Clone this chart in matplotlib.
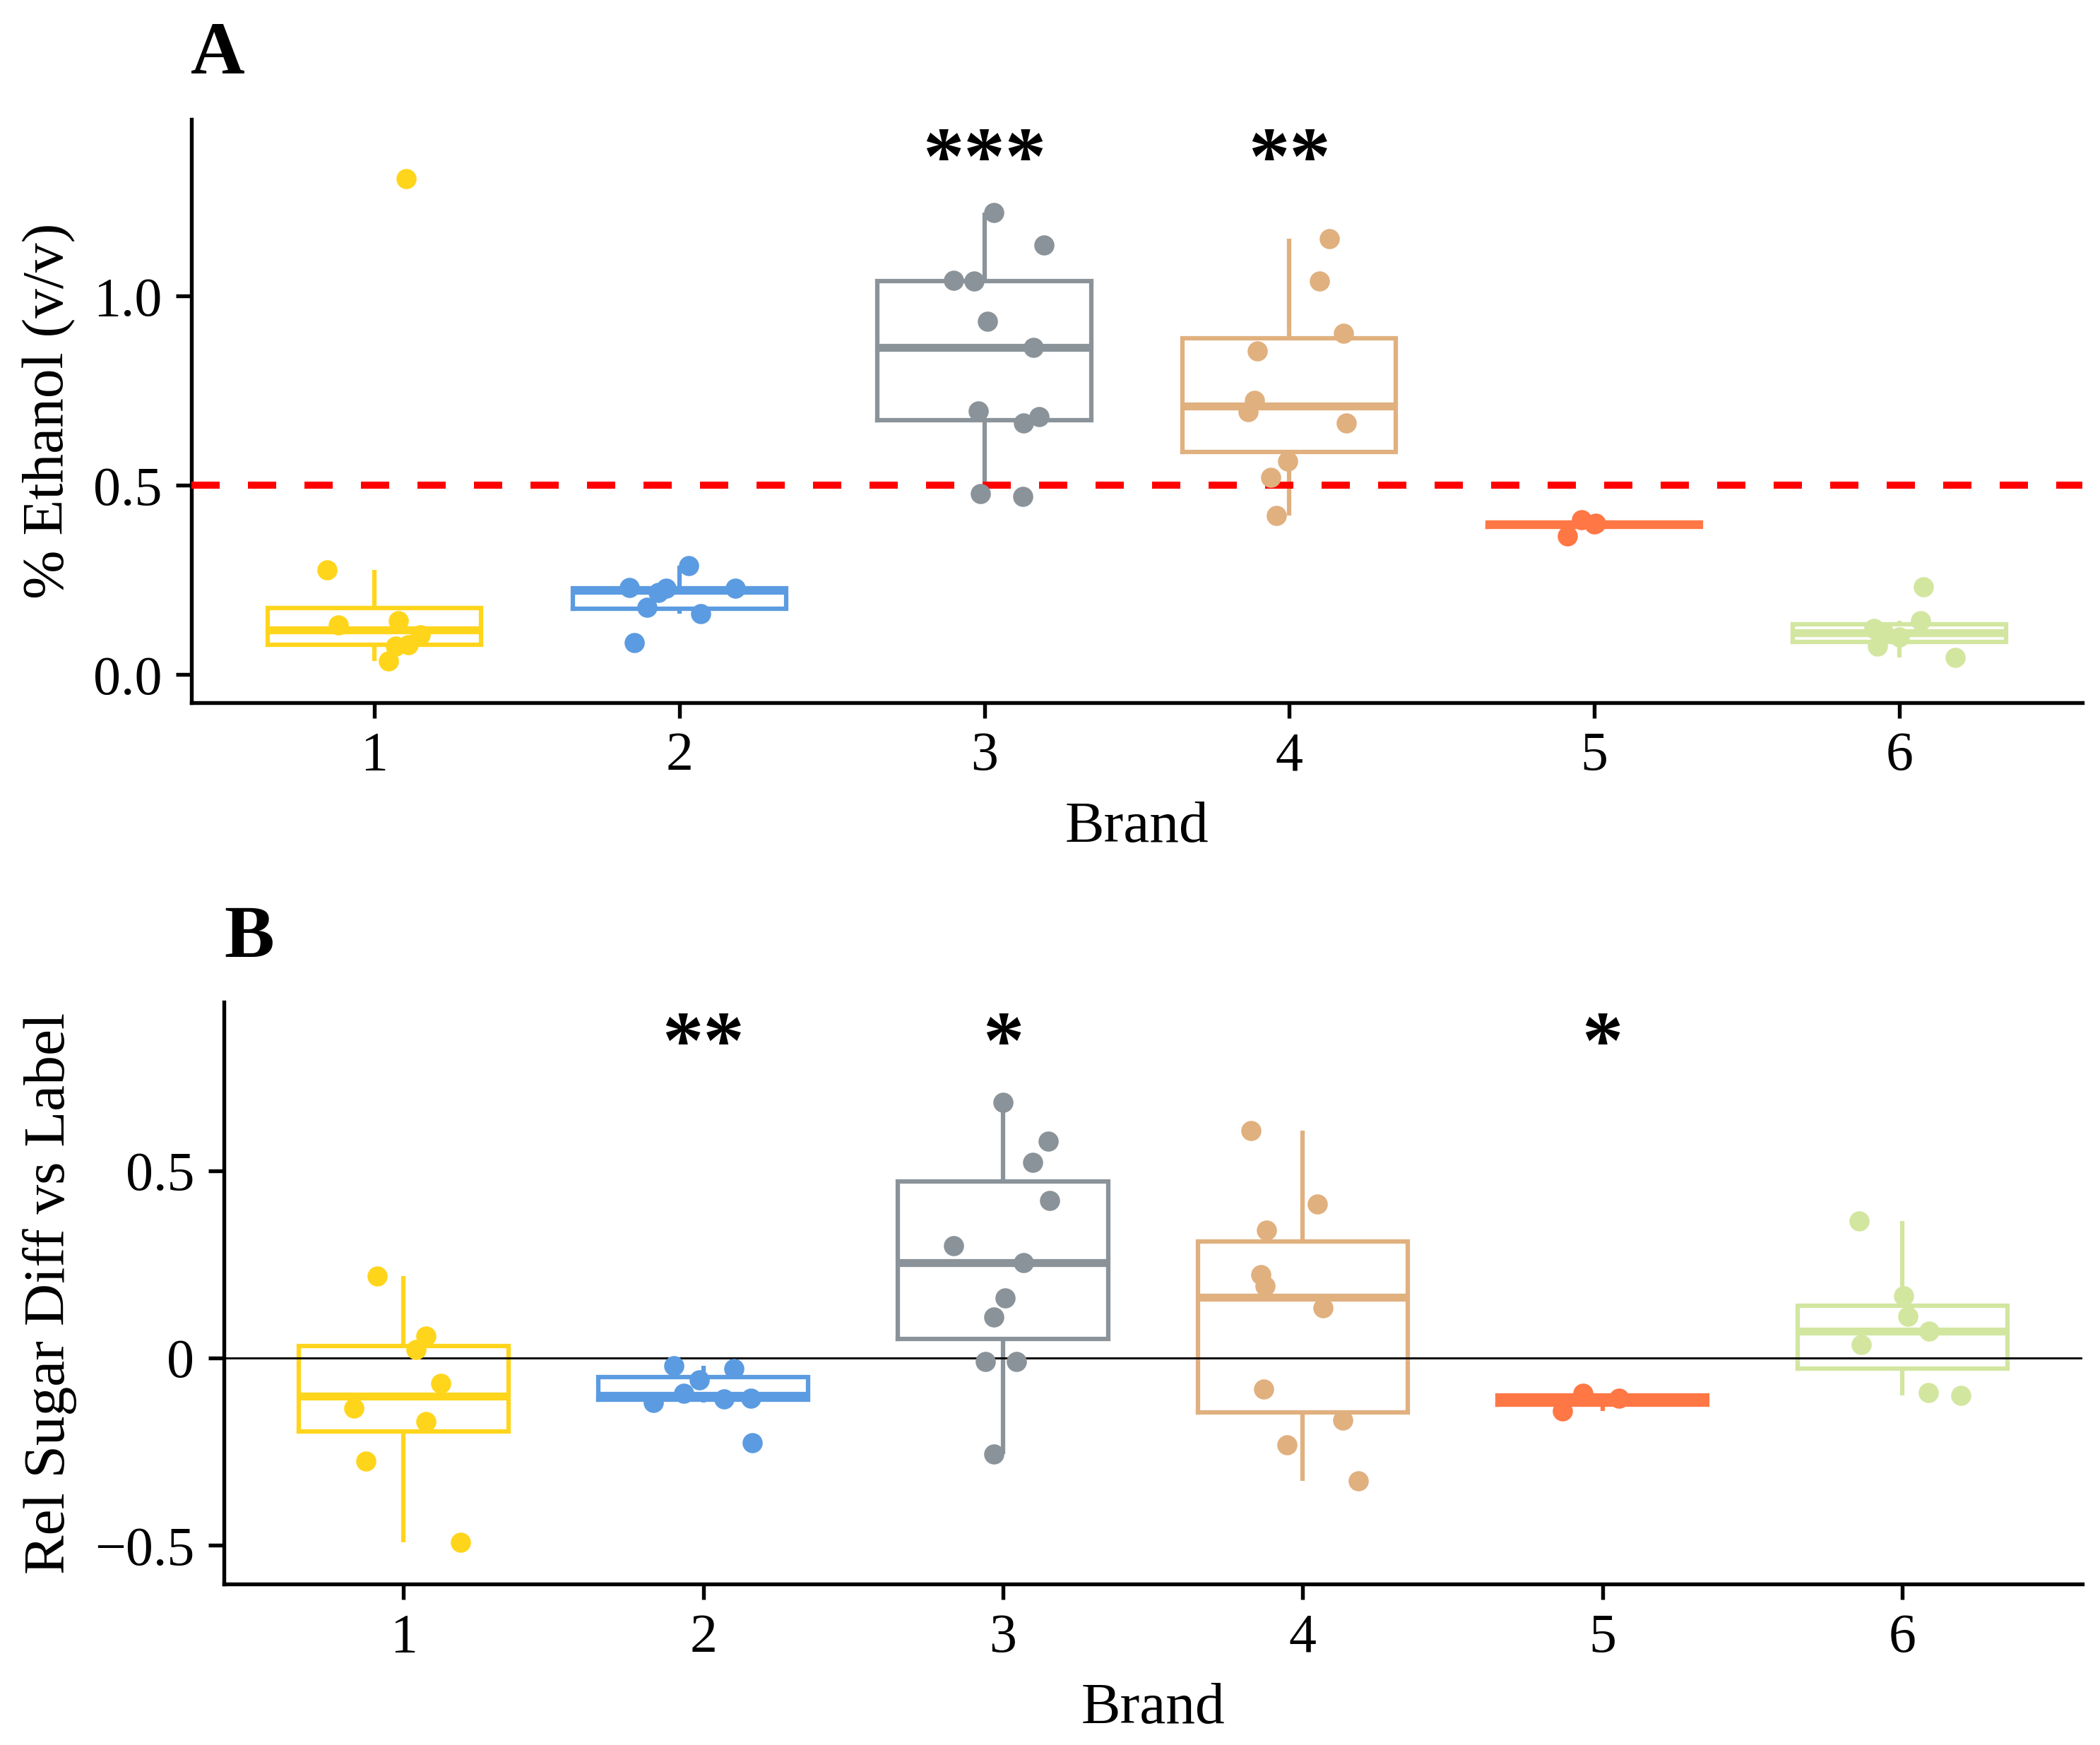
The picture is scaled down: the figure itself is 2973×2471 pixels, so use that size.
import numpy as np
import matplotlib
matplotlib.use("Agg")
import matplotlib.pyplot as plt

plt.rcParams['font.family'] = ['Liberation Serif', 'DejaVu Serif']

# ---------------------------------------------------------------
# data
brands = [1, 2, 3, 4, 5, 6]
colors = ['#FFD51C', '#5B9BE1', '#8A9399', '#E0B07F', '#FF7744', '#D2E6A0']

# panel A : % ethanol (v/v)
ethanol = [
    [1.311, 0.277, 0.132, 0.142, 0.105, 0.080, 0.075, 0.036],
    [0.230, 0.228, 0.217, 0.289, 0.228, 0.178, 0.161, 0.085],
    [1.221, 1.135, 1.042, 1.039, 0.934, 0.865, 0.697, 0.664, 0.681, 0.478, 0.470],
    [1.151, 1.039, 0.901, 0.855, 0.724, 0.695, 0.664, 0.564, 0.521, 0.421],
    [0.366, 0.410, 0.398, 0.400],
    [0.233, 0.142, 0.123, 0.110, 0.075, 0.046, 0.100],
]
# horizontal jitter of each point (brand units)
ethanol_jit = [
    [0.103, -0.155, -0.118, 0.078, 0.150, 0.112, 0.070, 0.047],
    [-0.164, -0.043, -0.070, 0.030, 0.183, -0.106, 0.069, -0.147],
    [0.032, 0.196, -0.102, -0.033, 0.010, 0.160, -0.020, 0.129, 0.180, -0.014, 0.126],
    [0.131, 0.100, 0.177, -0.104, -0.115, -0.134, 0.188, -0.005, -0.062, -0.042],
    [-0.088, -0.042, 0.000, 0.005],
    [0.078, 0.070, -0.084, -0.050, -0.072, 0.183, 0.000],
]
ethanol_stars = ['', '', '***', '**', '', '']

# panel B : relative sugar difference vs label
sugar = [
    [0.219, 0.059, 0.0235, -0.068, -0.134, -0.170, -0.275, -0.491],
    [-0.020, -0.028, -0.058, -0.094, -0.119, -0.109, -0.107, -0.226],
    [0.683, 0.579, 0.523, 0.421, 0.300, 0.255, 0.161, 0.110, -0.009, -0.009, -0.257],
    [0.606, 0.411, 0.341, 0.222, 0.192, 0.133, -0.083, -0.165, -0.231, -0.328],
    [-0.094, -0.107, -0.141],
    [0.366, 0.166, 0.112, 0.072, 0.036, -0.093, -0.100],
]
sugar_jit = [
    [-0.088, 0.074, 0.043, 0.125, -0.165, 0.074, -0.125, 0.191],
    [-0.097, 0.103, -0.013, -0.066, -0.167, 0.069, 0.160, 0.164],
    [0.000, 0.150, 0.100, 0.156, -0.165, 0.068, 0.007, -0.030, -0.058, 0.045, -0.030],
    [-0.174, 0.048, -0.120, -0.140, -0.127, 0.068, -0.131, 0.134, -0.053, 0.186],
    [-0.066, 0.055, -0.133],
    [-0.145, 0.004, 0.018, 0.090, -0.138, 0.086, 0.194],
]
sugar_stars = ['', '**', '*', '', '*', '']


# ---------------------------------------------------------------
def draw_panel(ax, data, jit, stars, star_y):
    bp = ax.boxplot(data, positions=brands, widths=0.7, whis=1.5,
                    showcaps=False, showfliers=False, manage_ticks=False)
    for i, c in enumerate(colors):
        box = bp['boxes'][i]
        box.set_color(c)
        box.set_linewidth(1.5)
        box.set_solid_joinstyle('miter')
        med = bp['medians'][i]
        med.set_color(c)
        med.set_linewidth(2.7)
        med.set_solid_capstyle('butt')
        for w in bp['whiskers'][2 * i:2 * i + 2]:
            w.set_color(c)
            w.set_linewidth(1.5)
            w.set_solid_capstyle('butt')
        xs = np.full(len(data[i]), brands[i]) + np.array(jit[i])
        ax.scatter(xs, data[i], s=47, color=c, linewidths=0, zorder=4)
        if stars[i]:
            ax.text(brands[i], star_y, stars[i], ha='center', va='baseline',
                    fontsize=28, fontweight='bold', zorder=5)

    ax.set_xlim(0.4, 6.6)
    ax.set_xticks(brands)
    ax.set_xticklabels([str(b) for b in brands])
    for s in ['top', 'right']:
        ax.spines[s].set_visible(False)
    for s in ['left', 'bottom']:
        ax.spines[s].set_linewidth(1.3)
    ax.tick_params(direction='out', length=5.3, width=1.3, labelsize=18.7, pad=4.6)
    ax.set_xlabel('Brand', fontsize=20, labelpad=6.5)


fig = plt.figure(figsize=(2973 / 300, 2471 / 300), dpi=300)

# __________________________________________________
# Panel A
axA = fig.add_axes([0.09115, 0.5975, 0.9004, 0.3341])
axA.axhline(0.5, color='#FF0000', lw=2.4, dashes=(4, 4), zorder=3)
draw_panel(axA, ethanol, ethanol_jit, ethanol_stars, 1.298)
axA.set_ylim(-0.073, 1.467)
axA.set_yticks([0.0, 0.5, 1.0], ['0.0', '0.5', '1.0'])
axA.set_ylabel('% Ethanol (v/v)', fontsize=20, va='center')
axA.yaxis.set_label_coords(-0.0751, 0.5)

# __________________________________________________
# Panel B
axB = fig.add_axes([0.10646, 0.09227, 0.8851, 0.3335])
axB.axhline(0.0, color='black', lw=0.7, zorder=3)
draw_panel(axB, sugar, sugar_jit, sugar_stars, 0.775)
axB.set_ylim(-0.603, 0.950)
axB.set_yticks([-0.5, 0.0, 0.5], ['\u22120.5', '0', '0.5'])
axB.set_ylabel('Rel Sugar Diff vs Label', fontsize=20, va='center')
axB.yaxis.set_label_coords(-0.0933, 0.5)

fig.text(270 / 2973, 1 - 104 / 2471, 'A', fontsize=25.5, fontweight='bold', va='baseline')
fig.text(317.6 / 2973, 1 - 1355 / 2471, 'B', fontsize=25.5, fontweight='bold', va='baseline')

fig.savefig('out.png', dpi=300)
